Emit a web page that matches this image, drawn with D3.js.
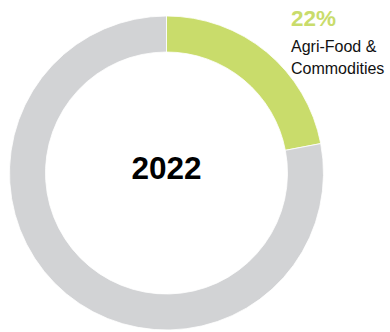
<!DOCTYPE html>
<html>
<head>
<meta charset="utf-8">
<script src="https://cdn.jsdelivr.net/npm/d3@7"></script>
<style>
  html, body { margin: 0; padding: 0; background: #fff; }
  svg { display: block; }
</style>
</head>
<body>
<svg id="chart" width="390" height="332"></svg>
<script>
// Portfolio share by sector, 2022
const segments = ["Agri-Food & Commodities", "Other"];
const shares = [22, 78];
const colors = ["#c9dc6b", "#d2d3d5"];
const yearLabel = "2022";
const highlightLines = ["Agri-Food &", "Commodities"];

const svg = d3.select("#chart");
const cx = 166.5, cy = 173, outerR = 157, innerR = 121;

const pie = d3.pie().sort(null).value(d => d)(shares);
const arc = d3.arc().innerRadius(innerR).outerRadius(outerR);

const g = svg.append("g").attr("transform", `translate(${cx},${cy})`);
g.selectAll("path")
  .data(pie)
  .join("path")
  .attr("d", arc)
  .attr("fill", (d, i) => colors[i])
  .attr("stroke", "#fff")
  .attr("stroke-width", 0.8);

g.append("text")
  .attr("x", 0)
  .attr("y", 6)
  .attr("text-anchor", "middle")
  .attr("font-family", "Liberation Sans, Arial, sans-serif")
  .attr("font-weight", "bold")
  .attr("font-size", 31.5)
  .attr("fill", "#000")
  .text(yearLabel);

// Callout for the highlighted segment
const label = svg.append("g").attr("transform", "translate(291,26)");
label.append("text")
  .attr("font-family", "Liberation Sans, Arial, sans-serif")
  .attr("font-weight", "bold")
  .attr("font-size", 22.5)
  .attr("fill", colors[0])
  .text(`${shares[0]}%`);
label.selectAll("text.line")
  .data(highlightLines)
  .join("text")
  .attr("class", "line")
  .attr("y", (d, i) => 26 + i * 22)
  .attr("font-family", "Liberation Sans, Arial, sans-serif")
  .attr("font-size", 16)
  .attr("fill", "#111")
  .text(d => d);
</script>
</body>
</html>
